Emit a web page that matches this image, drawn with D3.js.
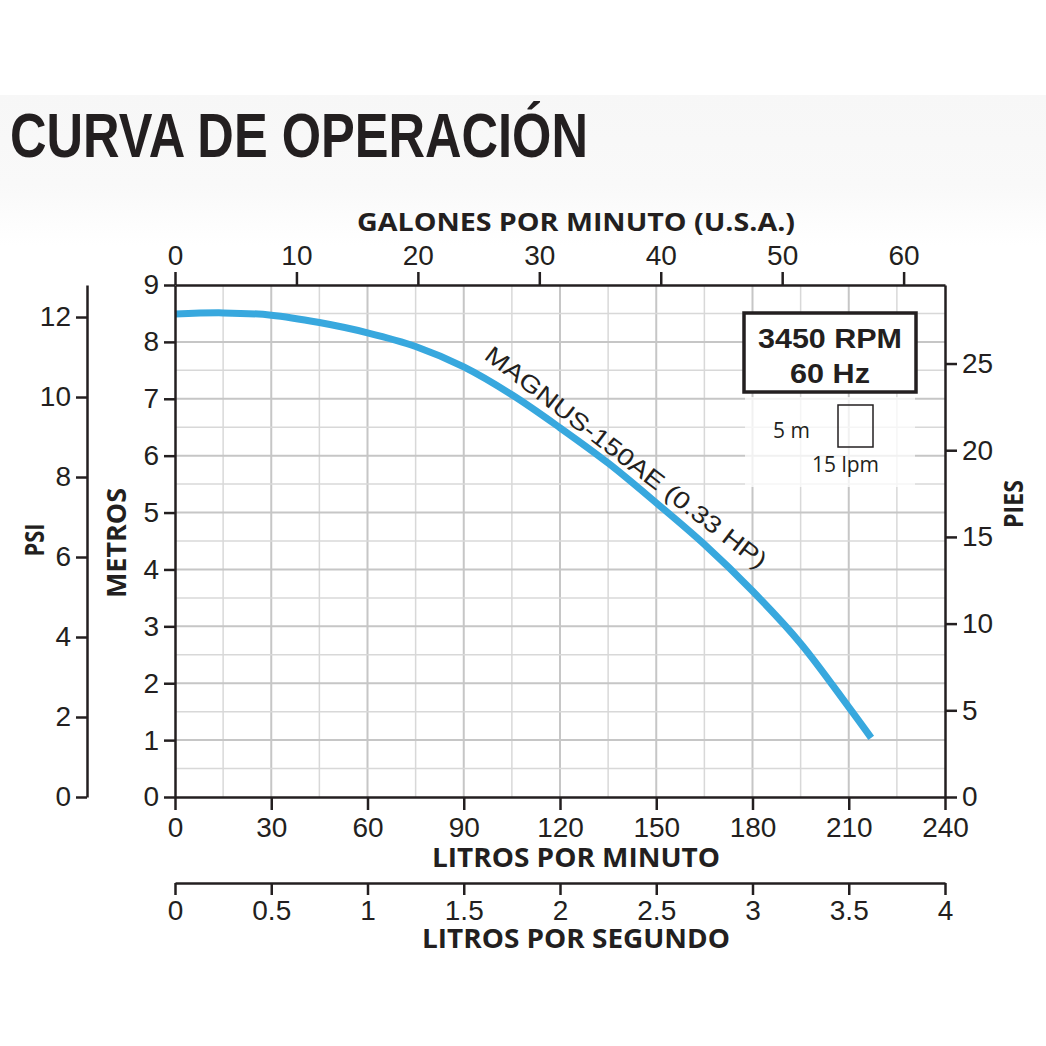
<!DOCTYPE html>
<html>
<head>
<meta charset="utf-8">
<script src="https://cdn.jsdelivr.net/npm/d3@7"></script>
<style>
  html, body { margin: 0; padding: 0; background: #fff; }
  svg { display: block; }
  .tick text { font-family: "Liberation Sans", Arial, sans-serif; font-size: 28px; fill: #231f20; }
  .axis path, .axis line { stroke: #231f20; stroke-width: 2.5; }
  .ttl { font-family: "Open Sans", sans-serif; font-weight: 700; fill: #231f20; }
</style>
</head>
<body>
<svg id="chart"></svg>
<script>
// Data
const flowLpm = [0, 15, 30, 45, 60, 75, 90, 105, 120, 135, 150, 165, 180, 195, 210, 217];
const headM   = [8.49, 8.51, 8.47, 8.34, 8.16, 7.92, 7.56, 7.07, 6.49, 5.87, 5.17, 4.44, 3.62, 2.70, 1.58, 1.04];
const lpmTicks = [0, 30, 60, 90, 120, 150, 180, 210, 240];
const gpmTicks = [0, 10, 20, 30, 40, 50, 60];
const metroTicks = [0, 1, 2, 3, 4, 5, 6, 7, 8, 9];
const psiTicks = [0, 2, 4, 6, 8, 10, 12];
const piesTicks = [0, 5, 10, 15, 20, 25];
const lpsTicks = [0, 0.5, 1, 1.5, 2, 2.5, 3, 3.5, 4];
const curveName = "MAGNUS-150AE (0.33 HP)";

// Constants
const width = 1046;
const height = 1046;
const plot = { left: 175, right: 945, top: 285, bottom: 797 };
const LPM_PER_GAL = 3.785;
const FT_PER_M = 3.281;
const PSI_PER_M = 1.4223;

const svg = d3.select('#chart')
  .attr('width', width)
  .attr('height', height);

// background band behind the title, fading to white
const grad = svg.append('defs').append('linearGradient')
  .attr('id', 'band')
  .attr('x1', 0).attr('y1', 0).attr('x2', 0).attr('y2', 1);
grad.append('stop').attr('offset', 0).attr('stop-color', '#f7f7f7');
grad.append('stop').attr('offset', 0.6).attr('stop-color', '#f9f9f9');
grad.append('stop').attr('offset', 1).attr('stop-color', '#ffffff');

svg.append('rect')
  .attr('x', 0).attr('y', 95)
  .attr('width', width).attr('height', 150)
  .attr('fill', 'url(#band)');

svg.append('text')
  .attr('x', 10).attr('y', 157)
  .attr('textLength', 578)
  .attr('lengthAdjust', 'spacingAndGlyphs')
  .style('font-family', '"Liberation Sans Narrow", "Liberation Sans", Arial, sans-serif')
  .style('font-weight', 700)
  .style('font-size', '63px')
  .attr('fill', '#231f20')
  .text('CURVA DE OPERACIÓN');

// Scales
const x = d3.scaleLinear().domain([0, 240]).range([plot.left, plot.right]);
const y = d3.scaleLinear().domain([0, 9]).range([plot.bottom, plot.top]);
const xGpm = d3.scaleLinear().domain([0, 240 / LPM_PER_GAL]).range([plot.left, plot.right]);
const yFt = d3.scaleLinear().domain([0, 9 * FT_PER_M]).range([plot.bottom, plot.top]);
const yPsi = d3.scaleLinear().domain([0, 9 * PSI_PER_M]).range([plot.bottom, plot.top]);
const xLps = d3.scaleLinear().domain([0, 4]).range([plot.left, plot.right]);

// Grid
const grid = svg.append('g');
d3.range(15, 240, 15).forEach(v => {
  grid.append('line')
    .attr('x1', x(v)).attr('x2', x(v))
    .attr('y1', plot.top).attr('y2', plot.bottom)
    .attr('stroke', v % 30 === 0 ? '#c6c6c6' : '#d8d8d8')
    .attr('stroke-width', v % 30 === 0 ? 2 : 1.5);
});
d3.range(0.5, 9, 0.5).forEach(v => {
  grid.append('line')
    .attr('x1', plot.left).attr('x2', plot.right)
    .attr('y1', y(v)).attr('y2', y(v))
    .attr('stroke', v % 1 === 0 ? '#c6c6c6' : '#d8d8d8')
    .attr('stroke-width', v % 1 === 0 ? 2 : 1.5);
});

// white patch behind the scale legend
svg.append('rect')
  .attr('x', 745).attr('y', 397)
  .attr('width', 170).attr('height', 90)
  .attr('fill', '#fff')
  .attr('opacity', 0.75);

// Curve
const line = d3.line()
  .x((d, i) => x(flowLpm[i]))
  .y(d => y(d))
  .curve(d3.curveCatmullRom.alpha(0.5));

svg.append('path')
  .datum(headM)
  .attr('d', line)
  .attr('fill', 'none')
  .attr('stroke', '#38a8de')
  .attr('stroke-width', 7)
  .attr('stroke-linecap', 'butt');

// Curve label
svg.append('text')
  .attr('transform', 'translate(483,358) rotate(37.5)')
  .attr('textLength', 348)
  .attr('lengthAdjust', 'spacingAndGlyphs')
  .style('font-family', '"Liberation Sans", Arial, sans-serif')
  .style('font-size', '24px')
  .attr('fill', '#231f20')
  .text(curveName);

// Axes
svg.append('g').attr('class', 'axis')
  .attr('transform', `translate(0,${plot.bottom})`)
  .call(d3.axisBottom(x).tickValues(lpmTicks).tickSize(13).tickPadding(7).tickSizeOuter(0));

svg.append('g').attr('class', 'axis')
  .attr('transform', `translate(0,${plot.top})`)
  .call(d3.axisTop(xGpm).tickValues(gpmTicks).tickSize(13).tickPadding(7).tickSizeOuter(0));

svg.append('g').attr('class', 'axis')
  .attr('transform', `translate(${plot.left},0)`)
  .call(d3.axisLeft(y).tickValues(metroTicks).tickSize(11).tickPadding(5).tickSizeOuter(0));

svg.append('g').attr('class', 'axis')
  .attr('transform', `translate(${plot.right},0)`)
  .call(d3.axisRight(yFt).tickValues(piesTicks).tickSize(12).tickPadding(5).tickSizeOuter(0));

svg.append('g').attr('class', 'axis')
  .attr('transform', 'translate(87,0)')
  .call(d3.axisLeft(yPsi).tickValues(psiTicks).tickSize(11).tickPadding(5).tickSizeOuter(0));

svg.append('g').attr('class', 'axis')
  .attr('transform', 'translate(0,883)')
  .call(d3.axisBottom(xLps).tickValues(lpsTicks).tickFormat(d3.format('')).tickSize(12).tickPadding(5).tickSizeOuter(0));

// Axis titles
function title(txt, tx, ty, rot, len, size) {
  svg.append('text')
    .attr('class', 'ttl')
    .attr('transform', `translate(${tx},${ty}) rotate(${rot})`)
    .attr('text-anchor', 'middle')
    .attr('textLength', len)
    .attr('lengthAdjust', 'spacingAndGlyphs')
    .style('font-size', size + 'px')
    .text(txt);
}
title('GALONES POR MINUTO (U.S.A.)', 576, 231, 0, 438, 25);
title('LITROS POR MINUTO', 576, 867, 0, 288, 26);
title('LITROS POR SEGUNDO', 576, 948, 0, 308, 26);
title('PSI', 44, 540, -90, 33, 26);
title('METROS', 126, 543, -90, 110, 27);
title('PIES', 1023, 504, -90, 48, 26);

// RPM box
svg.append('rect')
  .attr('x', 744).attr('y', 313)
  .attr('width', 172).attr('height', 79)
  .attr('fill', '#fff')
  .attr('stroke', '#231f20')
  .attr('stroke-width', 3.5);

[['3450 RPM', 348, 144], ['60 Hz', 383, 80]].forEach(([t, ty, len]) => {
  svg.append('text')
    .attr('x', 830).attr('y', ty)
    .attr('text-anchor', 'middle')
    .attr('textLength', len)
    .attr('lengthAdjust', 'spacingAndGlyphs')
    .style('font-family', '"Liberation Sans", Arial, sans-serif')
    .style('font-weight', 700)
    .style('font-size', '27px')
    .attr('fill', '#231f20')
    .text(t);
});

// scale legend
svg.append('rect')
  .attr('x', 838).attr('y', 405)
  .attr('width', 35).attr('height', 42)
  .attr('fill', 'none')
  .attr('stroke', '#231f20')
  .attr('stroke-width', 1.5);

svg.append('text')
  .attr('x', 773).attr('y', 438)
  .style('font-family', '"Open Sans", sans-serif')
  .style('font-size', '21px')
  .attr('fill', '#231f20')
  .text('5 m');

svg.append('text')
  .attr('x', 812).attr('y', 472)
  .style('font-family', '"Open Sans", sans-serif')
  .style('font-size', '21px')
  .attr('fill', '#231f20')
  .text('15 lpm');
</script>
</body>
</html>
